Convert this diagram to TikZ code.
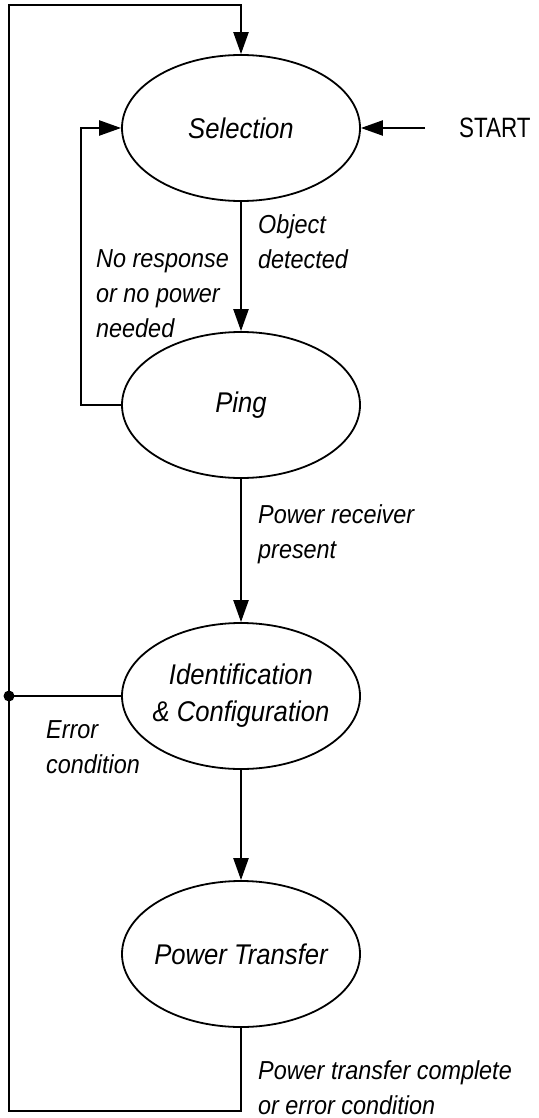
\documentclass[tikz,border=0pt]{standalone}
\usepackage{fontspec}
\usetikzlibrary{arrows.meta,shapes.geometric}
\newfontfamily\labfont{Liberation Sans}[FakeStretch=0.9]
\newfontfamily\startfont{Liberation Sans}[FakeStretch=0.8]
\tikzset{
  state/.style={draw, ellipse, line width=1.8pt, minimum width=238pt, minimum height=146pt, inner sep=0pt,
    font=\labfont\itshape\fontsize{28.5}{37}\selectfont},
  conn/.style={line width=2.3pt},
  arr/.style={conn, -{Triangle[length=22pt,width=15pt]}},
  lab/.style={anchor=base west, inner sep=0pt, font=\labfont\itshape\fontsize{26}{35}\selectfont}
}
\begin{document}
\begin{tikzpicture}[x=1pt,y=-1pt]
\useasboundingbox (0,0) rectangle (538,1118);
\node[state] (Sel) at (241,128) {\makebox[0pt]{Selection}};
\node[state] (Ping) at (241,405) {\makebox[0pt]{Ping}};
\node[state] (Ident) at (241,696) {\makebox[0pt]{\begin{tabular}{@{}c@{}}Identification\\\& Configuration\end{tabular}}};
\node[state] (PT) at (241,954) {\makebox[0pt]{Power Transfer}};
\node[anchor=west, inner sep=0pt, font=\startfont\fontsize{28}{34}\selectfont] (start) at (459,128) {START};
\coordinate (bl) at (9,1111);
\coordinate (tl) at (9,5);
\coordinate (dot) at (9,696);
\draw[arr] ([xshift=-34pt]start.west) -- (Sel.east);
\draw[arr] (Sel.south) -- (Ping.north);
\draw[arr] (Ping.south) -- (Ident.north);
\draw[arr] (Ident.south) -- (PT.north);
\draw[arr] (Ping.west) -- ++(-40,0) |- (Sel.west);
\draw[arr] (PT.south) |- (bl) -- (tl) -| (Sel.north);
\draw[conn] (Ident.west) -- (dot);
\fill (dot) circle (5.5pt);
\node[lab] (l1) at (258,233) {\begin{tabular}[t]{@{}l@{}}Object\\detected\end{tabular}};
\node[lab] (l2) at (96,267) {\begin{tabular}[t]{@{}l@{}}No response\\or no power\\needed\end{tabular}};
\node[lab] (l3) at (258,523) {\begin{tabular}[t]{@{}l@{}}Power receiver\\present\end{tabular}};
\node[lab] (l4) at (46,738) {\begin{tabular}[t]{@{}l@{}}Error\\condition\end{tabular}};
\node[lab] (l5) at (258,1079) {\begin{tabular}[t]{@{}l@{}}Power transfer complete\\or error condition\end{tabular}};
\end{tikzpicture}
\end{document}
